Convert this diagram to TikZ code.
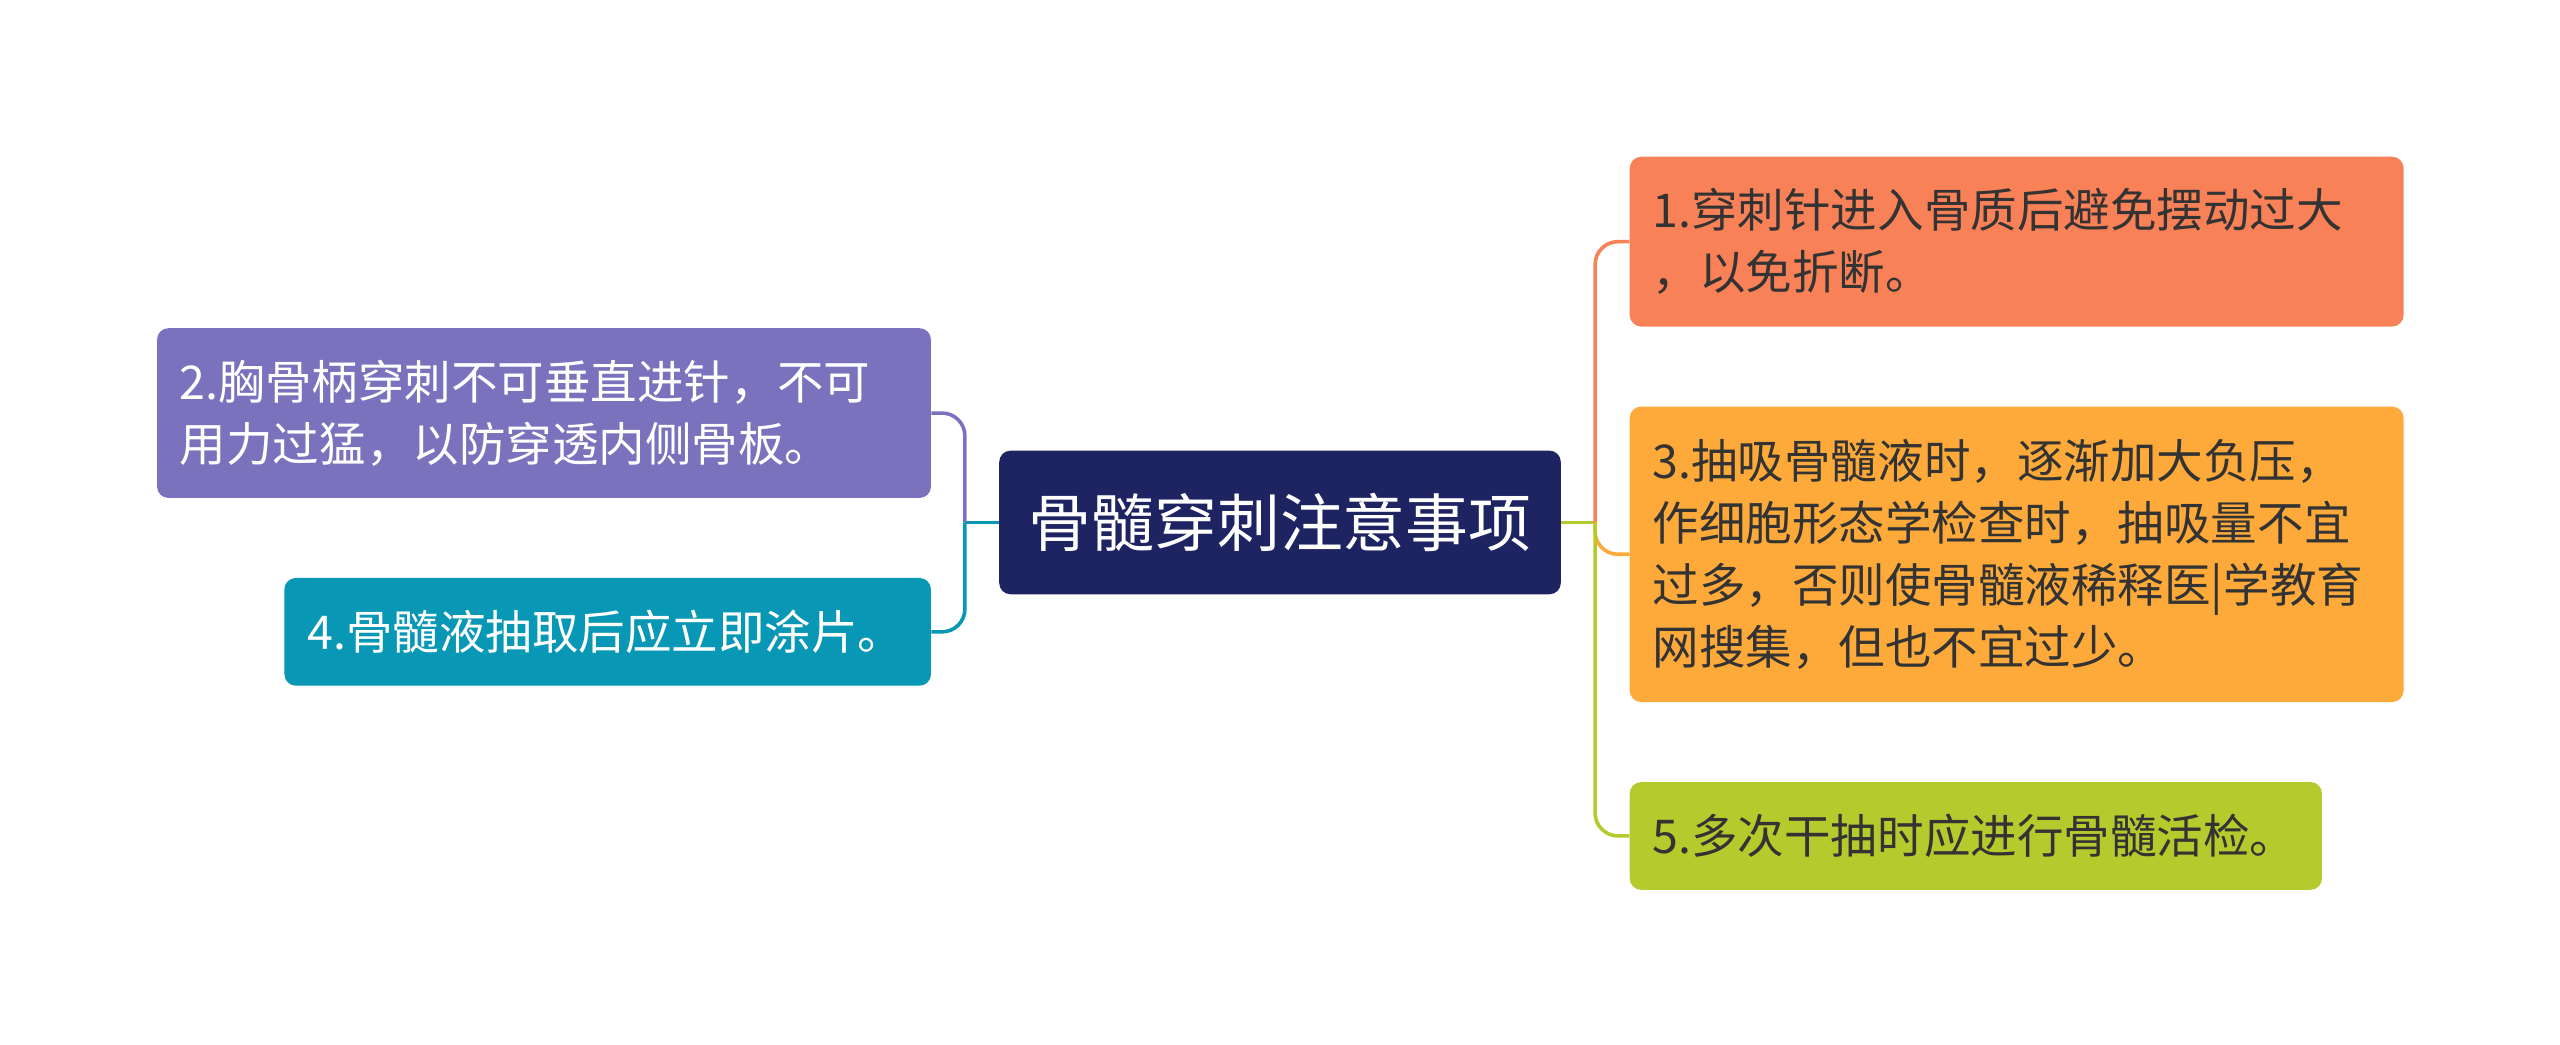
\documentclass[tikz,border=0pt]{standalone}
\usepackage{fontspec}
\setmainfont{Noto Sans CJK SC}
\begin{document}
\begin{tikzpicture}[x=1pt,y=-1pt,
 box/.style={rounded corners=7pt,inner xsep=14pt,inner ysep=0pt,align=left,anchor=west,font=\fontsize{28.5}{38}\selectfont},
 ln/.style={line width=2.2pt,rounded corners=14pt}]
\definecolor{cnav}{HTML}{1E2362}
\definecolor{cpur}{HTML}{7B72BE}
\definecolor{ctea}{HTML}{0897B4}
\definecolor{cor}{HTML}{F98157}
\definecolor{cyel}{HTML}{FDAA3A}
\definecolor{cgr}{HTML}{B5CB2D}
\useasboundingbox (0,0) rectangle (1568,640);
\node[box,fill=cnav,text=white,minimum width=344pt,minimum height=88pt,align=center,anchor=center,font=\fontsize{38.5}{44}\selectfont] (c) at (784,320) {骨髓穿刺注意事项};
\node[box,fill=cpur,text=white,minimum width=474pt,minimum height=104pt,text width=446pt] (n2) at (96,253) {2.胸骨柄穿刺不可垂直进针，不可\\用力过猛，以防穿透内侧骨板。};
\node[box,fill=ctea,text=white,minimum width=396pt,minimum height=66pt,text width=368pt] (n4) at (174,387) {4.骨髓液抽取后应立即涂片。};
\node[box,fill=cor,text=black!80,minimum width=474pt,minimum height=104pt,text width=446pt] (n1) at (998,148) {1.穿刺针进入骨质后避免摆动过大\\，以免折断。};
\node[box,fill=cyel,text=black!80,minimum width=474pt,minimum height=181pt,text width=446pt] (n3) at (998,339.5) {3.抽吸骨髓液时，逐渐加大负压，\\作细胞形态学检查时，抽吸量不宜\\过多，否则使骨髓液稀释医|学教育\\网搜集，但也不宜过少。};
\node[box,fill=cgr,text=black!80,minimum width=424pt,minimum height=66pt,text width=396pt] (n5) at (998,512) {5.多次干抽时应进行骨髓活检。};
\coordinate (jl) at (591,320);
\coordinate (jr) at (977,320);
\draw[ln,ctea] (c.west) -- (jl);
\draw[ln,cpur] (jl) |- (n2.east);
\draw[ln,ctea] (jl) |- (n4.east);
\draw[ln,cgr] (c.east) -- (jr);
\draw[ln,cor] (jr) |- (n1.west);
\draw[ln,cyel] (jr) |- (n3.west);
\draw[ln,cgr] (jr) |- (n5.west);
\end{tikzpicture}
\end{document}
